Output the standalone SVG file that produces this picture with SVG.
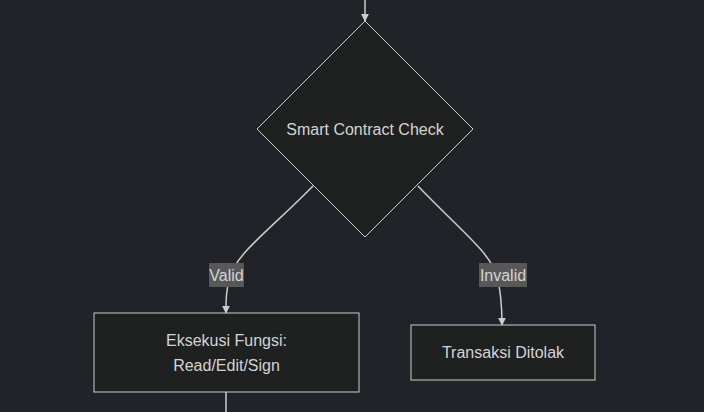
<svg xmlns="http://www.w3.org/2000/svg" width="704" height="412" viewBox="0 0 704 412">
<style>
.bg{fill:#222329}
.node{fill:#1f2020;stroke:#cccccc;stroke-width:1}
.t{font-family:"Liberation Sans",Arial,sans-serif;font-size:16px;fill:#d4d4d4;text-anchor:middle;dominant-baseline:central}
.edge{fill:none;stroke:#cccccc;stroke-width:1.5}
.lbl{fill:#585858}
</style>
<defs>
<marker id="arr" viewBox="0 0 10 10" refX="9" refY="5" markerWidth="8" markerHeight="8" markerUnits="userSpaceOnUse" orient="auto">
<path d="M0,0 L10,5 L0,10 z" fill="#cccccc"/>
</marker>
</defs>
<rect class="bg" x="0" y="0" width="704" height="412"/>
<g id="edges">
<path class="edge" d="M365,0 L365,21" marker-end="url(#arr)"/>
<path class="edge" d="M313,186 C272,228 238,252 230,276 C226,290 226,300 226,313" marker-end="url(#arr)"/>
<path class="edge" d="M418,186 C458,228 490,252 497,276 C501,292 502,305 502,325" marker-end="url(#arr)"/>
<path class="edge" d="M226,392 L226,412"/>
</g>
<g id="lbl-valid">
<rect class="lbl" x="209" y="263" width="35" height="24"/>
<text class="t" x="226.5" y="275">Valid</text>
</g>
<g id="lbl-invalid">
<rect class="lbl" x="479" y="263" width="48" height="24"/>
<text class="t" x="503" y="275">Invalid</text>
</g>
<g id="check">
<polygon class="node" points="365,21 473,129 365,237 257,129"/>
<text class="t" x="365" y="129">Smart Contract Check</text>
</g>
<g id="exec">
<rect class="node" x="94" y="313" width="265" height="79"/>
<text class="t" x="226.5" y="340">Eksekusi Fungsi:</text>
<text class="t" x="226.5" y="365">Read/Edit/Sign</text>
</g>
<g id="reject">
<rect class="node" x="411" y="325" width="184" height="55"/>
<text class="t" x="503" y="352">Transaksi Ditolak</text>
</g>
</svg>
